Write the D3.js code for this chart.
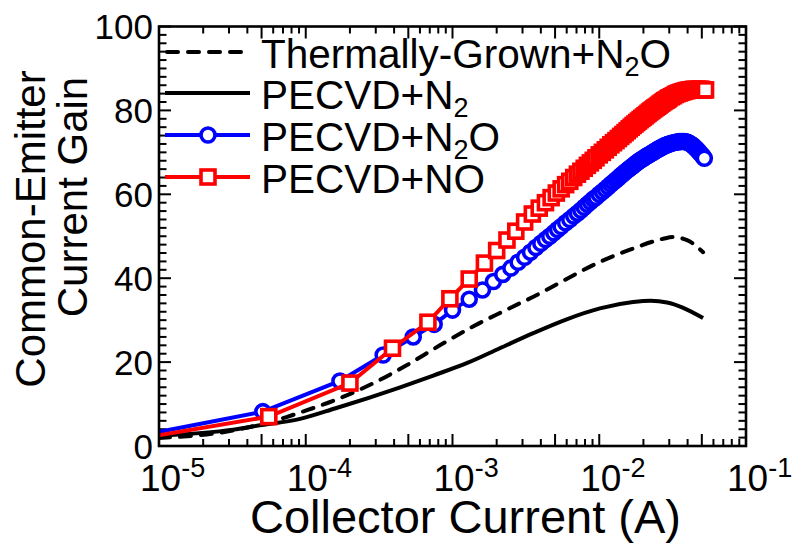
<!DOCTYPE html>
<html>
<head>
<meta charset="utf-8">
<script src="https://cdn.jsdelivr.net/npm/d3@7/dist/d3.min.js"></script>
<style>
  body { margin: 0; background: #fff; }
  svg { display: block; font-family: "Liberation Sans", Arial, sans-serif; }
</style>
</head>
<body>
<div id="chart"></div>
<script>
// ---- data ----
// Thermally-Grown+N2O (dashed black), current in A
const thermalCurrent = [1e-5, 3.2e-5, 5.0e-5, 7.4e-5, 9e-5, 1.6e-4, 2.9e-4, 4.9e-4, 8.2e-4, 1.38e-3, 2.34e-3, 4.0e-3, 5.7e-3, 9.7e-3, 1.62e-2, 2.73e-2, 3.16e-2, 4.0e-2, 5.1e-2];
const thermalGain    = [1.9, 3.7, 5.2, 6.9, 7.9, 11.0, 15.0, 19.3, 24.0, 28.5, 32.5, 36.5, 39.4, 43.6, 46.8, 49.4, 49.8, 49.0, 46.2];

// PECVD+N2 (solid black), current in A
const n2Current = [1e-5, 3.2e-5, 5.0e-5, 9e-5, 1.6e-4, 4.4e-4, 7.4e-4, 1.26e-3, 2.1e-3, 3.55e-3, 6.0e-3, 1.01e-2, 1.7e-2, 2.24e-2, 2.9e-2, 3.7e-2, 5.1e-2];
const n2Gain    = [2.4, 3.9, 5.0, 6.4, 9.0, 14.0, 16.8, 19.8, 23.3, 26.9, 30.2, 32.8, 34.3, 34.6, 34.2, 33.0, 30.5];

// PECVD+N2O (blue circles), current in mA
const n2oCurrentMA = [0.008, 0.051, 0.171, 0.337, 0.54, 0.75, 1.0, 1.3, 1.6, 1.9, 2.2, 2.5, 2.8, 3.1, 3.4, 3.7,
  4.0, 4.3, 4.6, 4.9, 5.2, 5.5, 5.9, 6.3, 6.7, 7.1, 7.5, 7.9, 8.3, 8.7, 9.1, 9.5, 10, 10.5, 11, 11.5,
  12, 12.5, 13, 13.5, 14, 14.5, 15, 15.5, 16, 16.5, 17, 17.5, 18, 18.5, 19, 19.5,
  20, 20.5, 21, 21.5, 22, 22.5, 23, 23.5, 24, 24.5, 25, 25.5, 26, 26.5, 27, 27.5, 28, 28.5, 29, 29.5,
  30, 31, 32, 33, 34, 35, 36, 37, 38, 39, 40, 41, 42, 43, 44, 45, 46, 47, 48, 49, 50, 51, 52];
const n2oGain = [2.7, 8.2, 15.5, 21.7, 26.0, 29.0, 32.4, 35.0, 37.2, 39.2, 40.9, 42.4, 43.8, 45.0, 46.2, 47.3,
  48.3, 49.2, 50.0, 50.8, 51.6, 52.3, 53.2, 54.0, 54.8, 55.5, 56.2, 56.9, 57.6, 58.2, 58.8, 59.3, 60.0, 60.6, 61.2, 61.8,
  62.4, 62.9, 63.4, 63.9, 64.4, 64.85, 65.3, 65.7, 66.1, 66.45, 66.8, 67.15, 67.5, 67.8, 68.1, 68.35,
  68.6, 68.85, 69.1, 69.3, 69.5, 69.7, 69.9, 70.1, 70.3, 70.5, 70.7, 70.85, 71.0, 71.15, 71.3, 71.45, 71.6, 71.7, 71.8, 71.9,
  72.0, 72.15, 72.3, 72.4, 72.45, 72.55, 72.6, 72.6, 72.6, 72.5, 72.4, 72.2, 72.0, 71.75, 71.45, 71.1, 70.8, 70.45, 70.1, 69.7, 69.35, 69.0, 68.6];

// PECVD+NO (red squares), current in mA
const noCurrentMA = [0.008, 0.056, 0.20, 0.39, 0.68, 0.96, 1.30, 1.65, 2.00, 2.35, 2.70, 3.10, 3.50,
  3.9, 4.3, 4.7, 5.1, 5.5, 5.9, 6.3, 6.7, 7.1, 7.5, 7.9, 8.3, 8.7, 9.1, 9.5, 10, 10.5,
  11, 11.5, 12, 12.5, 13, 13.5, 14, 14.5, 15, 15.5, 16, 16.5, 17, 17.5, 18, 18.5, 19, 19.5,
  20, 20.5, 21, 21.5, 22, 22.5, 23, 23.5, 24, 24.5, 25, 25.5, 26, 26.5, 27, 27.5, 28, 28.5, 29, 29.5,
  30, 31, 32, 33, 34, 35, 36, 37, 38, 39, 40, 41, 42, 43, 44, 45, 46, 47, 48, 49, 50, 51, 52, 53];
const noGain = [2.0, 7.0, 15.0, 23.3, 29.5, 35.1, 39.8, 43.6, 46.6, 49.1, 51.2, 53.4, 55.3,
  56.7, 58.0, 59.2, 60.3, 61.3, 62.3, 63.1, 64.0, 64.8, 65.5, 66.2, 66.9, 67.5, 68.1, 68.7, 69.4, 70.0,
  70.6, 71.2, 71.8, 72.3, 72.8, 73.3, 73.8, 74.25, 74.7, 75.15, 75.6, 76.0, 76.4, 76.75, 77.1, 77.45, 77.8, 78.1,
  78.4, 78.7, 79.0, 79.3, 79.6, 79.85, 80.1, 80.35, 80.6, 80.8, 81.0, 81.25, 81.5, 81.7, 81.9, 82.1, 82.3, 82.45, 82.6, 82.8,
  83.0, 83.25, 83.5, 83.8, 84.0, 84.15, 84.3, 84.45, 84.55, 84.7, 84.75, 84.85, 84.9, 84.95, 85.0, 85.0, 85.0, 85.0, 85.0, 85.0, 85.0, 84.9, 84.9, 84.9];

const yTickLabels = [0, 20, 40, 60, 80, 100];
const xTickExponents = [-5, -4, -3, -2, -1];
const legendLabels = [
  [["Thermally-Grown+N", 0], ["2", 1], ["O", 0]],
  [["PECVD+N", 0], ["2", 1]],
  [["PECVD+N", 0], ["2", 1], ["O", 0]],
  [["PECVD+NO", 0]]
];

// ---- layout ----
const W = 792, H = 544;
const plot = {left: 159, right: 746, top: 26.5, bottom: 446};

const x = d3.scaleLog().domain([1e-5, 1e-1]).range([plot.left, plot.right]);
const y = d3.scaleLinear().domain([0, 100]).range([plot.bottom, plot.top]);

const svg = d3.select('#chart').append('svg')
  .attr('width', W)
  .attr('height', H);

svg.append('rect').attr('width', W).attr('height', H).attr('fill', '#fff');

svg.append('clipPath').attr('id', 'clip')
  .append('rect')
  .attr('x', plot.left).attr('y', plot.top)
  .attr('width', plot.right - plot.left)
  .attr('height', plot.bottom - plot.top);

const g = {
  ticks: svg.append('g').attr('id', 'ticks'),
  data: svg.append('g').attr('id', 'data').attr('clip-path', 'url(#clip)'),
  frame: svg.append('g').attr('id', 'frame'),
  labels: svg.append('g').attr('id', 'labels'),
  legend: svg.append('g').attr('id', 'legend')
};

// ---- ticks (all inward, on all four sides) ----
const xt = x.ticks(); // 1..9 x each decade
xt.forEach(v => {
  const m = Math.round(v / Math.pow(10, Math.floor(Math.log10(v) + 1e-9)));
  const len = (m === 1 || m === 5) ? 12 : 7;
  const px = x(v);
  g.ticks.append('line').attr('x1', px).attr('x2', px)
    .attr('y1', plot.bottom).attr('y2', plot.bottom - len);
  g.ticks.append('line').attr('x1', px).attr('x2', px)
    .attr('y1', plot.top).attr('y2', plot.top + len);
});
y.ticks(50).forEach(v => {
  const len = (v % 20 === 0) ? 12 : 7.5;
  const py = y(v);
  g.ticks.append('line').attr('x1', plot.left).attr('x2', plot.left + len)
    .attr('y1', py).attr('y2', py);
  g.ticks.append('line').attr('x1', plot.right).attr('x2', plot.right - len)
    .attr('y1', py).attr('y2', py);
});
g.ticks.selectAll('line').attr('stroke', '#000').attr('stroke-width', 2);

g.frame.append('rect')
  .attr('x', plot.left).attr('y', plot.top)
  .attr('width', plot.right - plot.left)
  .attr('height', plot.bottom - plot.top)
  .attr('fill', 'none').attr('stroke', '#000').attr('stroke-width', 2.6);

// ---- tick labels ----
g.labels.selectAll('text.ylab')
  .data(yTickLabels)
  .enter().append('text')
  .attr('class', 'ylab')
  .attr('x', plot.left - 6)
  .attr('y', d => y(d))
  .attr('dy', '0.36em')
  .attr('text-anchor', 'end')
  .attr('font-size', 35)
  .text(d => d);

xTickExponents.forEach(e => {
  const t = g.labels.append('text')
    .attr('x', x(Math.pow(10, e)) - 19)
    .attr('y', 491)
    .attr('font-size', 37);
  t.append('tspan').text('10');
  t.append('tspan').attr('dy', -14).attr('font-size', 27).text('-' + Math.abs(e));
});

// ---- axis titles ----
g.labels.append('text')
  .attr('x', (plot.left + plot.right) / 2 + 13)
  .attr('y', 533)
  .attr('text-anchor', 'middle')
  .attr('font-size', 47)
  .text('Collector Current (A)');

g.labels.append('text')
  .attr('transform', 'translate(45,229) rotate(-90)')
  .attr('text-anchor', 'middle')
  .attr('font-size', 42)
  .text('Common-Emitter');
g.labels.append('text')
  .attr('transform', 'translate(87,197) rotate(-90)')
  .attr('text-anchor', 'middle')
  .attr('font-size', 42)
  .text('Current Gain');

// ---- series ----
const thermal = thermalCurrent.map((c, i) => ({c: c, v: thermalGain[i]}));
const n2 = n2Current.map((c, i) => ({c: c, v: n2Gain[i]}));
const n2o = n2oCurrentMA.map((c, i) => ({c: c * 1e-3, v: n2oGain[i]}));
const no = noCurrentMA.map((c, i) => ({c: c * 1e-3, v: noGain[i]}));

const smooth = d3.line().x(d => x(d.c)).y(d => y(d.v)).curve(d3.curveMonotoneX);
const straight = d3.line().x(d => x(d.c)).y(d => y(d.v));

g.data.append('path').datum(thermal)
  .attr('d', smooth)
  .attr('fill', 'none').attr('stroke', '#000')
  .attr('stroke-width', 4).attr('stroke-dasharray', '11,10')
  .attr('stroke-linecap', 'round');

g.data.append('path').datum(n2)
  .attr('d', smooth)
  .attr('fill', 'none').attr('stroke', '#000')
  .attr('stroke-width', 4);

g.data.append('path').datum(n2o)
  .attr('d', straight)
  .attr('fill', 'none').attr('stroke', '#0000ff')
  .attr('stroke-width', 4);
g.data.selectAll('circle.n2o')
  .data(n2o)
  .enter().append('circle')
  .attr('class', 'n2o')
  .attr('cx', d => x(d.c))
  .attr('cy', d => y(d.v))
  .attr('r', 7)
  .attr('fill', '#fff').attr('stroke', '#0000ff').attr('stroke-width', 3.6);

g.data.append('path').datum(no)
  .attr('d', straight)
  .attr('fill', 'none').attr('stroke', '#ff0000')
  .attr('stroke-width', 4);
g.data.selectAll('rect.no')
  .data(no)
  .enter().append('rect')
  .attr('class', 'no')
  .attr('x', d => x(d.c) - 7)
  .attr('y', d => y(d.v) - 7)
  .attr('width', 14).attr('height', 14)
  .attr('fill', '#fff').attr('stroke', '#ff0000').attr('stroke-width', 3.6);

// ---- legend ----
const legendRows = [52, 93, 135, 177];
const lx0 = 165, lx1 = 250, lmid = 208;

g.legend.append('line').attr('x1', lx0 + 2).attr('x2', lx1 - 2)
  .attr('y1', legendRows[0]).attr('y2', legendRows[0])
  .attr('stroke', '#000').attr('stroke-width', 4)
  .attr('stroke-dasharray', '11,10').attr('stroke-linecap', 'round');
g.legend.append('line').attr('x1', lx0).attr('x2', lx1)
  .attr('y1', legendRows[1]).attr('y2', legendRows[1])
  .attr('stroke', '#000').attr('stroke-width', 4);
g.legend.append('line').attr('x1', lx0).attr('x2', lx1)
  .attr('y1', legendRows[2]).attr('y2', legendRows[2])
  .attr('stroke', '#0000ff').attr('stroke-width', 4);
g.legend.append('circle').attr('cx', lmid).attr('cy', legendRows[2]).attr('r', 7)
  .attr('fill', '#fff').attr('stroke', '#0000ff').attr('stroke-width', 3.6);
g.legend.append('line').attr('x1', lx0).attr('x2', lx1)
  .attr('y1', legendRows[3]).attr('y2', legendRows[3])
  .attr('stroke', '#ff0000').attr('stroke-width', 4);
g.legend.append('rect').attr('x', lmid - 7).attr('y', legendRows[3] - 7)
  .attr('width', 14).attr('height', 14)
  .attr('fill', '#fff').attr('stroke', '#ff0000').attr('stroke-width', 3.6);

legendLabels.forEach((parts, i) => {
  const t = g.legend.append('text')
    .attr('x', 261)
    .attr('y', legendRows[i] + 16)
    .attr('font-size', 40.5);
  let shifted = false;
  parts.forEach(p => {
    const s = t.append('tspan').text(p[0]);
    if (p[1] && !shifted) { s.attr('dy', 8).attr('font-size', 27); shifted = true; }
    else if (!p[1] && shifted) { s.attr('dy', -8); shifted = false; }
  });
});
</script>
</body>
</html>
